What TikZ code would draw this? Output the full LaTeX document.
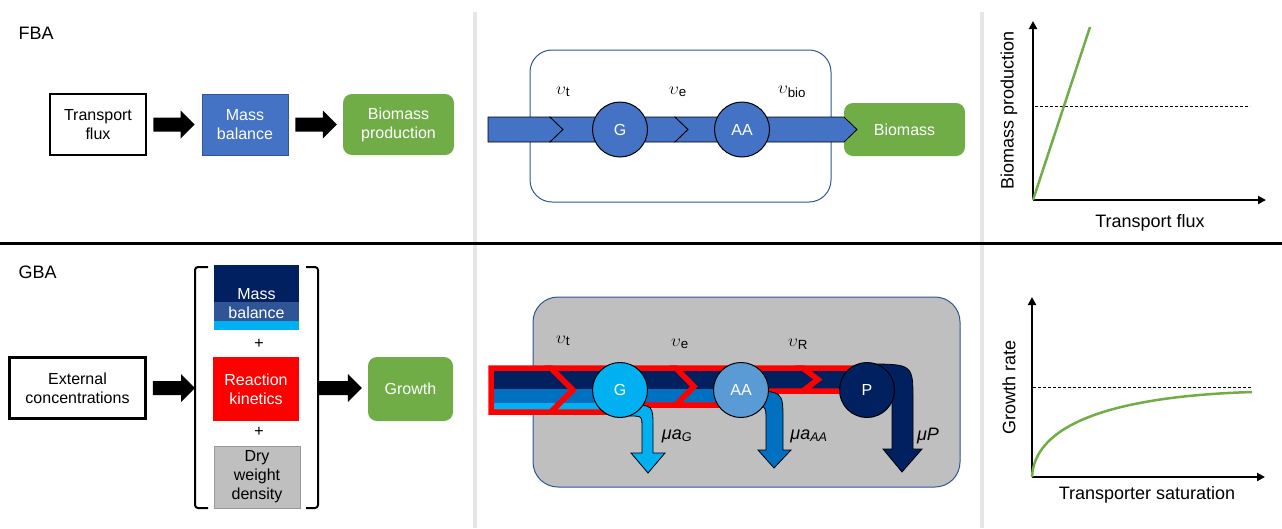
\documentclass[tikz,border=0pt]{standalone}
\usepackage{fontspec}
\setmainfont{Liberation Sans}
\usepackage{tikz}
\usetikzlibrary{arrows.meta}
\usetikzlibrary{calc}

\definecolor{fbablue}{HTML}{4472C4}
\definecolor{edgeblue}{HTML}{2F5597}
\definecolor{leafgreen}{HTML}{70AD47}
\definecolor{navyband}{HTML}{002060}
\definecolor{midband}{HTML}{0070C0}
\definecolor{cyanband}{HTML}{00B0F0}
\definecolor{aablue}{HTML}{5B9BD5}
\definecolor{cellgray}{HTML}{BFBFBF}
\definecolor{sepgray}{HTML}{E6E6E6}

\tikzset{
  txt/.style={font=\fontsize{16}{19}\selectfont},
  bigtxt/.style={font=\fontsize{18}{21}\selectfont},
  whitebox/.style={txt,draw=black,line width=2.5pt,align=center,inner sep=0pt},
  bluebox/.style={txt,fill=fbablue,draw=edgeblue,line width=0.8pt,text=white,align=center,inner sep=0pt},
  greenbox/.style={txt,fill=leafgreen,rounded corners=9pt,text=white,align=center,inner sep=0pt},
  metab/.style={txt,circle,draw=black,line width=1pt,text=white,minimum size=55pt,inner sep=0pt},
  axis/.style={line width=2pt,-{Triangle[length=8pt,width=8pt]}},
  limit/.style={line width=1pt,dash pattern=on 3pt off 2pt},
  curve/.style={leafgreen,line width=2.5pt},
  bracket/.style={line width=2pt,rounded corners=3pt},
  rededge/.style={red,line width=5.5pt,line join=miter},
  outflow/.style={draw=black,line width=0.8pt},
  rate/.style={font=\fontsize{19}{22}\selectfont},
}

% thick black block arrow from #1 to #2 (shaft 14, head 28 x 14)
\newcommand\fatarrow[2]{%
  \fill ($(#1)+(0,-7)$) -- ($(#2)+(-14,-7)$) -- ($(#2)+(-14,-14)$) -- (#2)
    -- ($(#2)+(-14,14)$) -- ($(#2)+(-14,7)$) -- ($(#1)+(0,7)$) -- cycle;}

% one red-rimmed piece of the coloured flux band
\newcommand\fluxpart[1]{%
  \begin{scope}
    \clip #1;
    \fill[navyband] (480,360) rectangle (900,389);
    \fill[midband] (480,389) rectangle (900,403);
    \fill[cyanband] (480,403) rectangle (900,420);
  \end{scope}
  \draw[rededge] #1;}

\begin{document}
\begin{tikzpicture}[x=1pt,y=-1pt]
\useasboundingbox (0,0) rectangle (1282,528);

% panel frame
\draw[sepgray,line width=3.5pt] (475,12) -- (475,528);
\draw[sepgray,line width=3.5pt] (982,12) -- (982,528);
\draw[line width=3pt] (0,243) -- (1282,243);

%%% FBA row
\node[bigtxt,anchor=west] (fbalab) at (15,33) {FBA};
\node[whitebox,minimum width=96pt,minimum height=61pt] (tflux) at (98,124.5) {Transport\\flux};
\node[bluebox,minimum width=86pt,minimum height=61pt] (massbal) at (245,124.5) {Mass\\balance};
\node[greenbox,minimum width=111pt,minimum height=61pt] (bioprod) at (398.5,124.5) {Biomass\\production};
\coordinate (a1s) at ($(tflux.east)+(6,0)$);
\coordinate (a1e) at ($(massbal.west)+(-7,0)$);
\coordinate (a2s) at ($(massbal.east)+(7,0)$);
\coordinate (a2e) at ($(bioprod.west)+(-6,0)$);
\fatarrow{a1s}{a1e}
\fatarrow{a2s}{a2e}

% cell with the linear pathway
\node[draw=edgeblue,line width=1pt,rounded corners=22pt,minimum width=301pt,minimum height=152pt] (fbacell) at (680.5,126) {};
\node[greenbox,minimum width=121pt,minimum height=53pt] (biomass) at (904.5,129.5) {Biomass};
\filldraw[fill=fbablue,draw=black,line width=0.8pt] (488,117) -- (550,117) -- (563,129.5) -- (550,142) -- (488,142) -- cycle;
\filldraw[fill=fbablue,draw=black,line width=0.8pt] (550,117) -- (675,117) -- (688,129.5) -- (675,142) -- (550,142) -- (563,129.5) -- cycle;
\filldraw[fill=fbablue,draw=black,line width=0.8pt] (675,117) -- (844,117) -- (857,129.5) -- (844,142) -- (675,142) -- (688,129.5) -- cycle;
\node[metab,fill=fbablue] (g1) at (620,129.5) {G};
\node[metab,fill=fbablue] (aa1) at (742,129.5) {AA};
\node[rate] (vt1) at (563,92) {$\upsilon$\textsubscript{t}};
\node[rate] (ve1) at (678,92) {$\upsilon$\textsubscript{e}};
\node[rate] (vbio) at (792,92) {$\upsilon$\textsubscript{bio}};

% linear response
\coordinate (o1) at (1033,200);
\draw[axis] (o1) -- (1033,21);
\draw[axis] (o1) -- (1266,200);
\draw[limit] (1035,106) -- (1250,106);
\draw[curve] (o1) -- (1090,27);
\node[bigtxt,rotate=90] (ylab1) at (1009,110) {Biomass production};
\node[bigtxt] (xlab1) at (1150,223) {Transport flux};

%%% GBA row
\node[bigtxt,anchor=west] (gbalab) at (15,272) {GBA};
\node[whitebox,minimum width=136pt,minimum height=61pt] (ext) at (77.5,388) {External\\concentrations};

% the three constraints between brackets
\fill[navyband] (214,265) rectangle (299,302);
\fill[edgeblue] (214,302) rectangle (299,321);
\fill[cyanband] (214,321) rectangle (299,330);
\node[txt,text=white,align=center] (massbal2) at (256.5,304) {Mass\\balance};
\node[txt] (plus1) at (259,344) {+};
\node[txt,fill=red,text=white,align=center,minimum width=86pt,minimum height=64pt,inner sep=0pt] (kinetics) at (256,389) {Reaction\\kinetics};
\node[txt] (plus2) at (259,432) {+};
\node[txt,fill=cellgray,draw=gray!80,align=center,minimum width=86pt,minimum height=62pt,inner sep=0pt] (drydens) at (257,477) {Dry\\weight\\density};
\draw[bracket] (208,267) -- (195,267) -- (195,508) -- (208,508);
\draw[bracket] (306,267) -- (318,267) -- (318,508) -- (306,508);
\node[greenbox,minimum width=85pt,minimum height=64pt] (growth) at (410.5,389) {Growth};
\coordinate (a3s) at ($(ext.east)+(6,0)$);
\coordinate (lb) at (195,388);
\coordinate (rb) at (318,388);
\coordinate (a4e) at ($(growth.west)+(-6,-1)$);
\fatarrow{a3s}{lb}
\fatarrow{rb}{a4e}

% cell with the growth balanced pathway
\node[fill=cellgray,draw=edgeblue,line width=1pt,rounded corners=25pt,minimum width=427pt,minimum height=190pt] (gbacell) at (746.5,392) {};
\fluxpart{(491,368) -- (551,368) -- (573,390) -- (551,412) -- (491,412) -- cycle}
\fluxpart{(551,368) -- (676,368) -- (694,386.5) -- (676,405) -- (620,405) -- (620,412) -- (551,412) -- (573,390) -- cycle}
\fluxpart{(676,368) -- (803,368) -- (818,379.5) -- (803,391) -- (741,391) -- (741,405) -- (676,405) -- (694,386.5) -- cycle}
\fluxpart{(803,368) -- (866,368) -- (866,391) -- (803,391) -- (818,379.5) -- cycle}

% dilution outflows
\filldraw[outflow,fill=cyanband] (615,405) -- (630,405) .. controls (653,405) .. (653,428) -- (653,453) -- (665,453) -- (648,473) -- (631,453) -- (642,453) -- (642,428) .. controls (642,416) .. (630,416) -- (615,416) -- cycle;
\filldraw[outflow,fill=midband] (745,391) .. controls (783,391) .. (783,420) -- (783,450) -- (791,450) -- (774,468) -- (758,450) -- (766,450) -- (766,420) .. controls (766,405) .. (745,405) -- cycle;
\filldraw[outflow,fill=navyband] (866,364) .. controls (913,364) .. (913,400) -- (913,449) -- (922,449) -- (902,472) -- (883,449) -- (892,449) -- (892,400) .. controls (892,385) .. (866,385) -- cycle;

\node[metab,fill=cyanband] (g2) at (620,390) {G};
\node[metab,fill=aablue] (aa2) at (741,390) {AA};
\node[metab,fill=navyband] (p2) at (867,390) {P};
\node[rate] (vt2) at (563,341) {$\upsilon$\textsubscript{t}};
\node[rate] (ve2) at (680,344) {$\upsilon$\textsubscript{e}};
\node[rate] (vr2) at (798,344) {$\upsilon$\textsubscript{R}};
\node[bigtxt] (mug) at (677,436) {\textit{μa}\textsubscript{\textit{G}}};
\node[bigtxt] (muaa) at (809,436) {\textit{μa}\textsubscript{\textit{AA}}};
\node[bigtxt] (mup) at (928,436) {\textit{μP}};

% saturating response
\coordinate (o2) at (1032,477);
\draw[axis] (o2) -- (1032,297);
\draw[axis] (o2) -- (1265,477);
\draw[limit] (1033,387) -- (1252,387);
\draw[curve] (o2) .. controls (1034,432) and (1092,397) .. (1252,392);
\node[bigtxt,rotate=90] (ylab2) at (1009,387) {Growth rate};
\node[bigtxt] (xlab2) at (1147,495) {Transporter saturation};
\end{tikzpicture}
\end{document}
